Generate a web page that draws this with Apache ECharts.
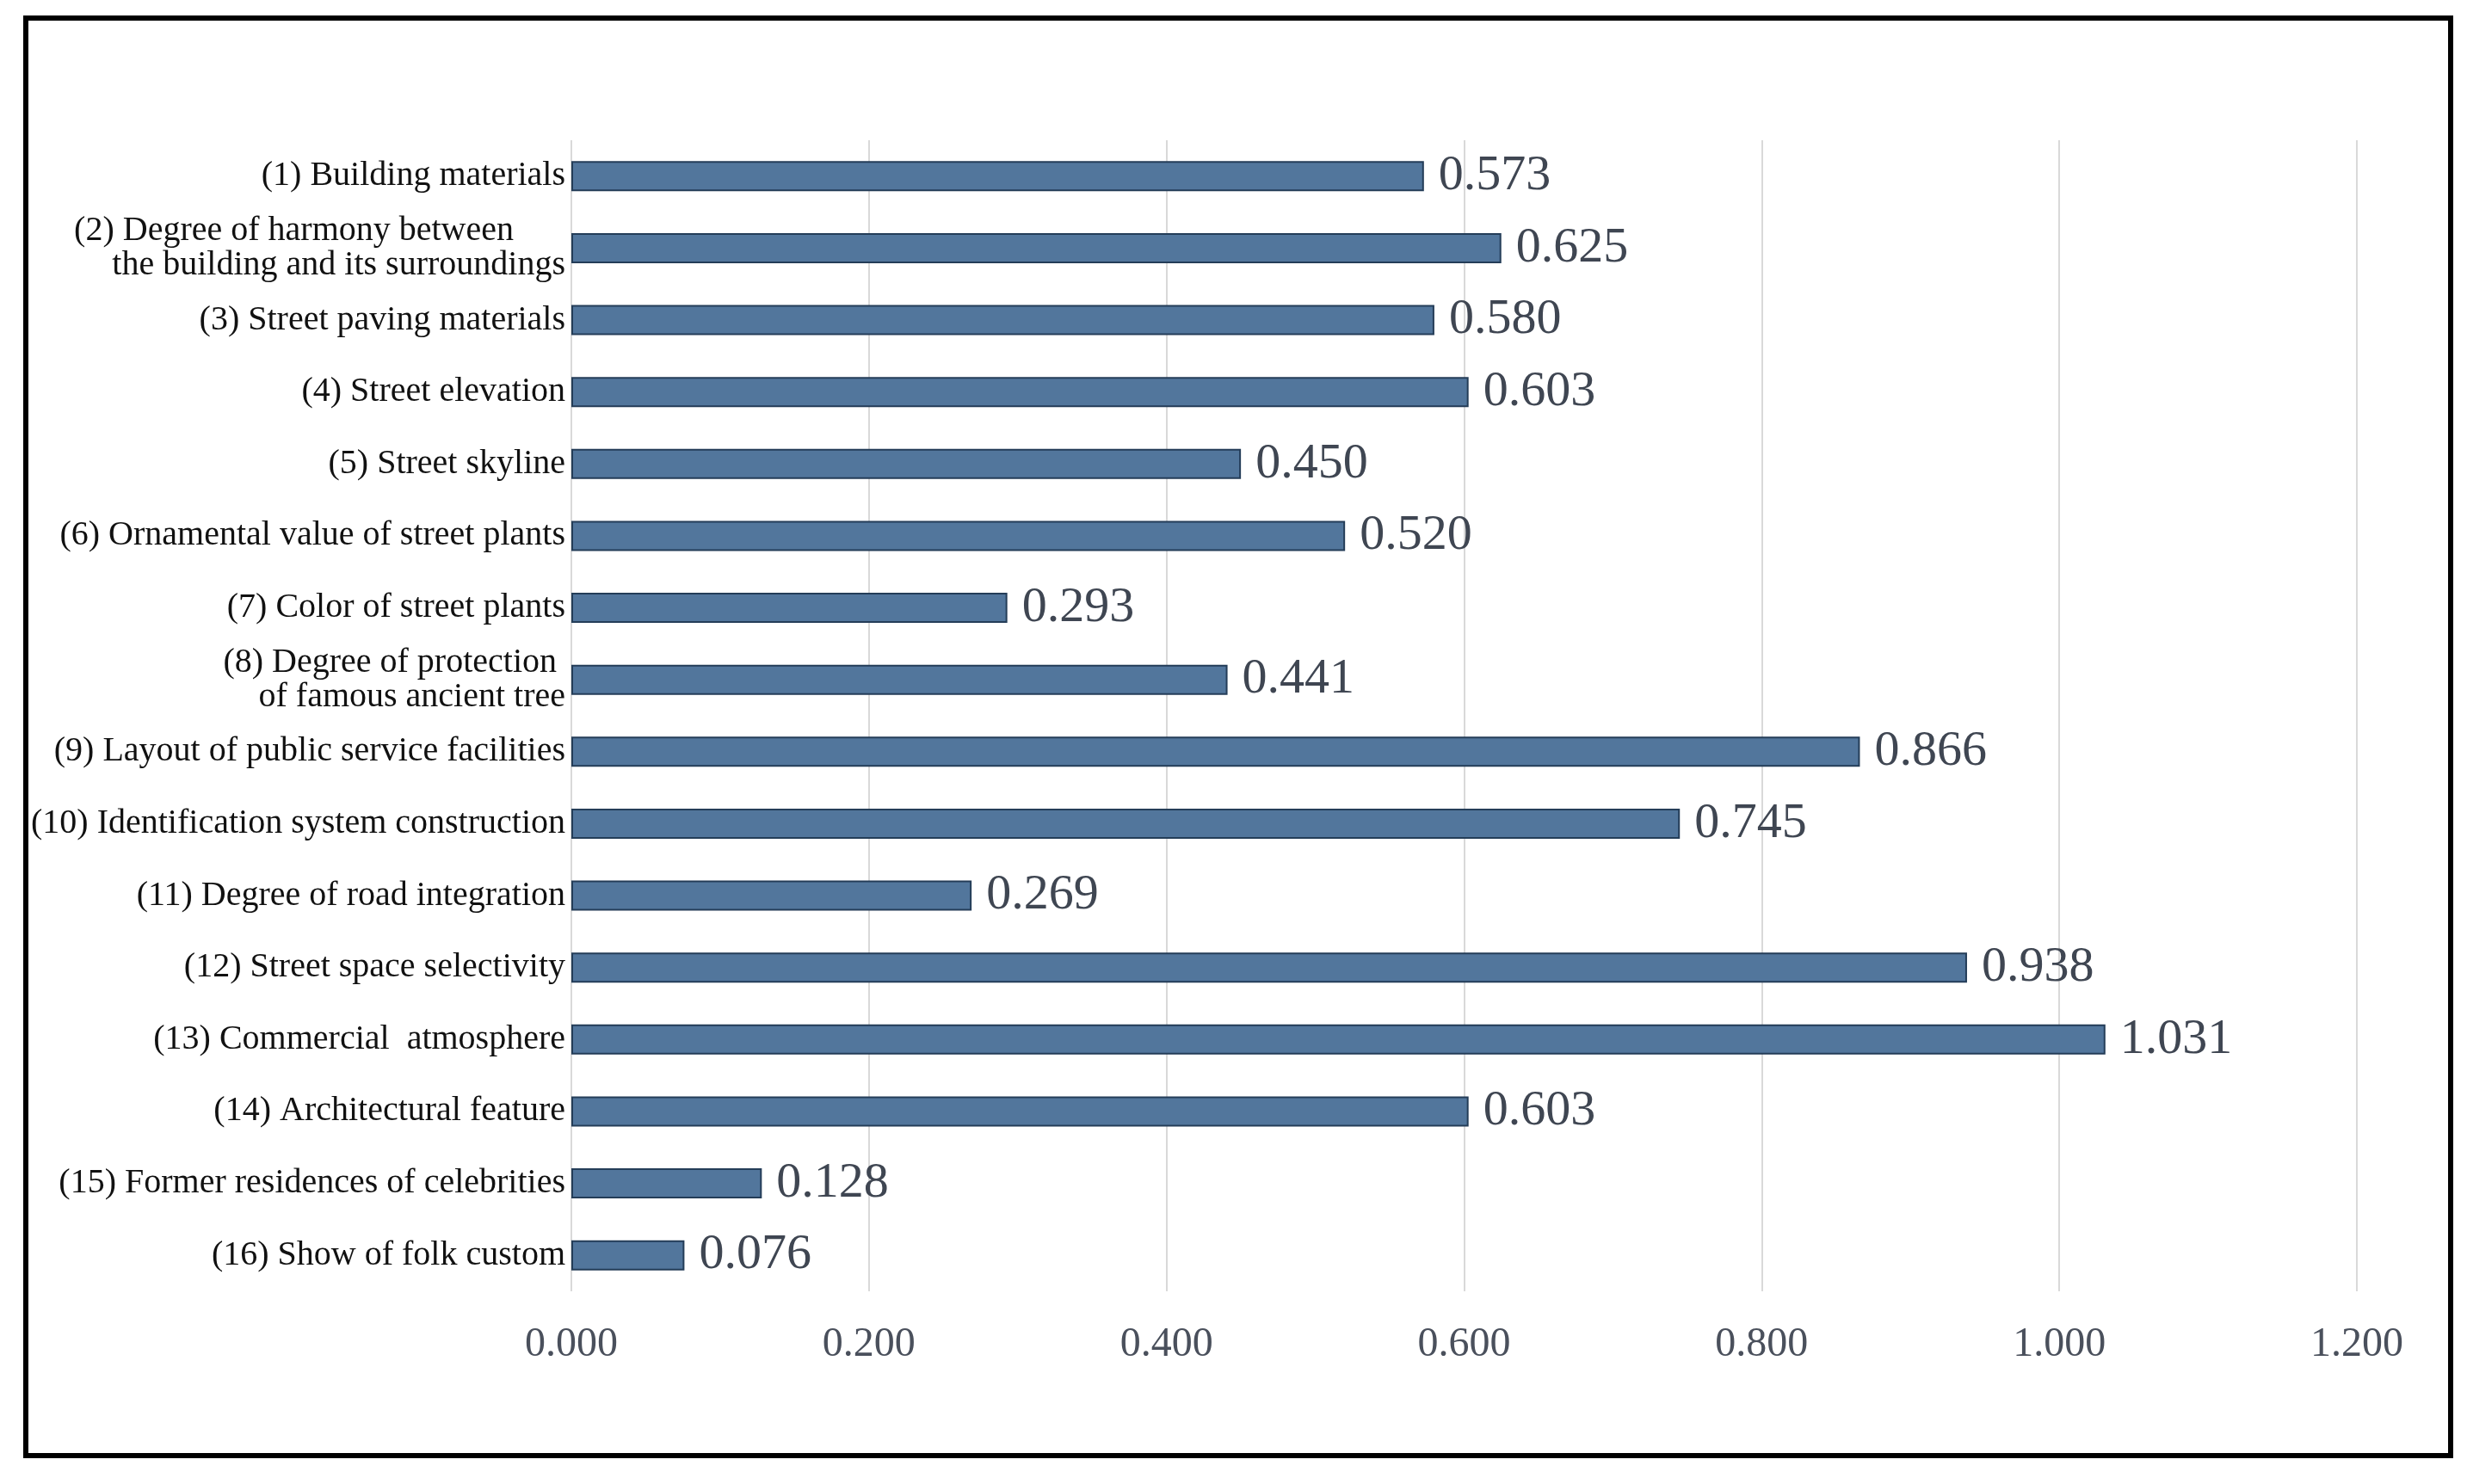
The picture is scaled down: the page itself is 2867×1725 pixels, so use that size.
<!DOCTYPE html>
<html>
<head>
<meta charset="utf-8">
<script src="https://cdn.jsdelivr.net/npm/echarts@6/dist/echarts.min.js"></script>
<style>
html,body{margin:0;padding:0;background:#fff;}
#chart{width:2867px;height:1725px;}
</style>
</head>
<body>
<div id="chart"></div>
<script>
const categories = [
  '(1) Building materials',
  '(2) Degree of harmony between      \nthe building and its surroundings',
  '(3) Street paving materials',
  '(4) Street elevation',
  '(5) Street skyline',
  '(6) Ornamental value of street plants',
  '(7) Color of street plants',
  '(8) Degree of protection \nof famous ancient tree',
  '(9) Layout of public service facilities',
  '(10) Identification system construction',
  '(11) Degree of road integration',
  '(12) Street space selectivity',
  '(13) Commercial  atmosphere',
  '(14) Architectural feature',
  '(15) Former residences of celebrities',
  '(16) Show of folk custom'
];
const values = [0.573, 0.625, 0.580, 0.603, 0.450, 0.520, 0.293, 0.441, 0.866, 0.745, 0.269, 0.938, 1.031, 0.603, 0.128, 0.076];
const xTicks = [0, 0.2, 0.4, 0.6, 0.8, 1.0, 1.2];

const chart = echarts.init(document.getElementById('chart'), null, {renderer: 'canvas'});
const serif = 'Liberation Serif, Times New Roman, serif';

const yData = categories.map(function (c, i) {
  if (i === 1) return {value: c, textStyle: {padding: [0, 0, 40, 0]}};
  return c;
});

chart.setOption({
  backgroundColor: '#ffffff',
  animation: false,
  graphic: [{
    type: 'rect',
    shape: {x: 30, y: 21, width: 2818, height: 1671},
    style: {fill: 'none', stroke: '#000000', lineWidth: 6},
    z: 100
  }],
  grid: {left: 664, right: 128, top: 163, bottom: 224, containLabel: false},
  xAxis: {
    type: 'value',
    min: xTicks[0],
    max: xTicks[xTicks.length - 1],
    interval: 0.2,
    axisLine: {show: false},
    axisTick: {show: false},
    splitLine: {show: true, lineStyle: {color: '#d9d9d9', width: 2}},
    axisLabel: {
      margin: 38,
      fontFamily: serif,
      fontSize: 48,
      color: '#4a505c',
      formatter: function (v) { return v.toFixed(3); }
    }
  },
  yAxis: {
    type: 'category',
    inverse: true,
    data: yData,
    axisLine: {show: false},
    axisTick: {show: false},
    splitLine: {show: false},
    axisLabel: {
      margin: 7,
      fontFamily: serif,
      fontSize: 40,
      lineHeight: 40,
      color: '#111111',
      align: 'right',
      interval: 0
    }
  },
  series: [{
    type: 'bar',
    data: values,
    barWidth: 35,
    itemStyle: {color: '#52769c', borderColor: '#243d58', borderWidth: 2},
    label: {
      show: true,
      position: 'right',
      distance: 17,
      fontFamily: serif,
      fontSize: 58,
      color: '#3f4652',
      formatter: function (p) { return p.value.toFixed(3); }
    }
  }]
});
</script>
</body>
</html>
